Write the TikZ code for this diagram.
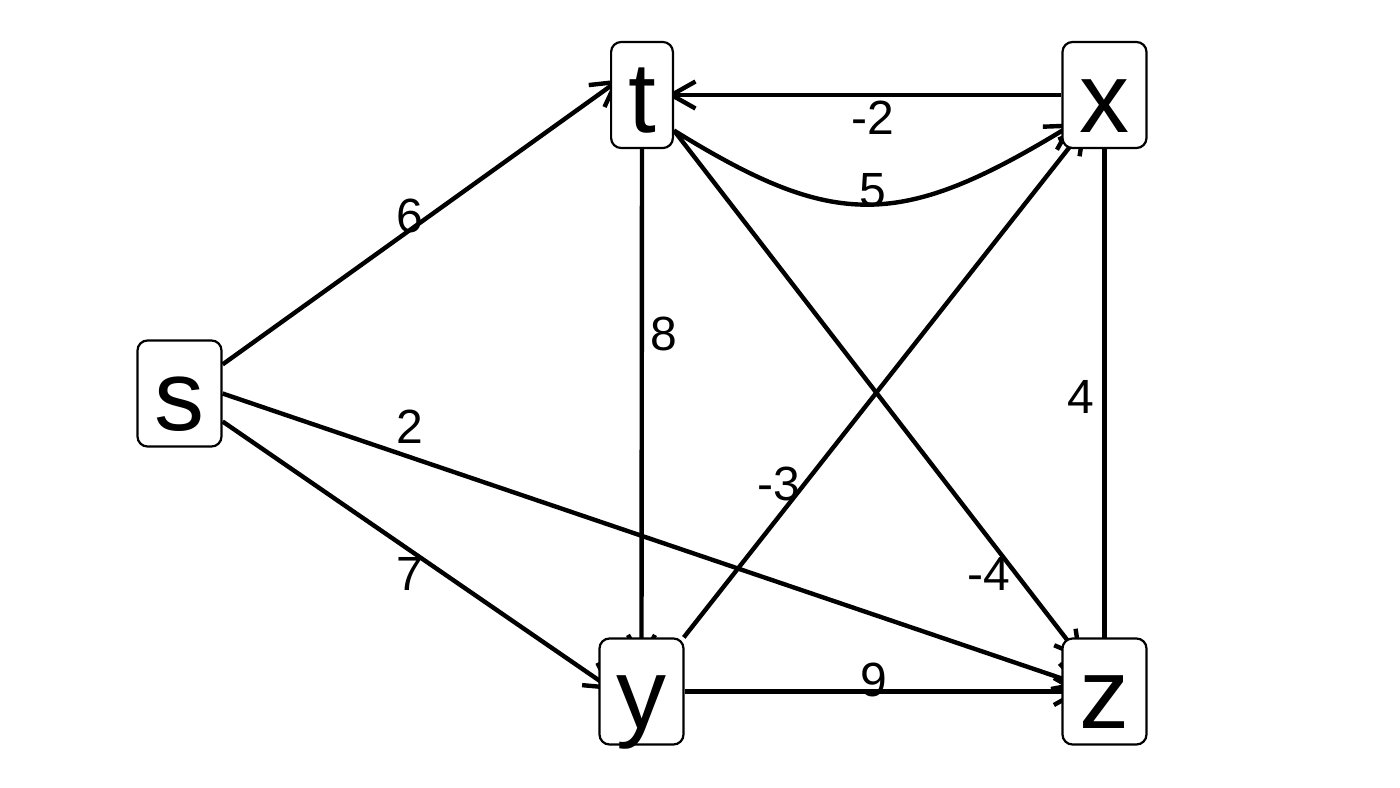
\documentclass[tikz,border=0pt]{standalone}
\usepackage{fontspec}
\setmainfont{Liberation Sans}
\usetikzlibrary{arrows.meta,backgrounds}
\begin{document}
\begin{tikzpicture}[x=1pt,y=-1pt,
  vert/.style={draw, line width=2.2pt, fill=white, rounded corners=10pt,
    inner xsep=17pt, inner ysep=0pt, minimum height=106pt,
    text height=80pt, text depth=6pt, font=\fontsize{100}{100}\selectfont},
  edge/.style={line width=4.4pt, -{Straight Barb[length=24pt,width=27pt]}},
  wt/.style={font=\fontsize{48}{48}\selectfont, inner sep=0pt}]
\path[use as bounding box] (0,0) rectangle (1400,787);
\node[vert] (s) at (179.5,393.5) {s};
\node[vert] (t) at (642,95) {t};
\node[vert] (x) at (1104.5,95) {x};
\node[vert] (y) at (641.5,691.5) {y};
\node[vert] (z) at (1104.5,691.5) {z};
\begin{scope}[on background layer]
\draw[edge, shorten >=-12pt] (s.34) -- (t.165);
\draw[edge, shorten >=-18pt] (s.-33) -- (y.165);
\draw[edge, shorten >=-22pt] (s.east) -- (z.163);
\draw[edge, shorten >=-26pt] (t.south) -- (y.north);
\draw[edge, shorten >=-7pt] (x.west) -- (t.east);
\draw[edge, shorten >=-15pt] (t.-48) .. controls (835,230) and (900,230) .. (x.220);
\draw[edge, shorten >=-28pt] (t.-48) -- (z.126);
\draw[edge, shorten >=-30pt] (x.south) -- (z.north);
\draw[edge, shorten >=-30pt] (y.52) -- (x.236);
\draw[edge, shorten >=-21pt] (y.east) -- (z.west);
\end{scope}
\node[wt] (w6) at (410,216) {6};
\node[wt] (w7) at (410,574) {7};
\node[wt] (w2) at (410,427) {2};
\node[wt] (w8) at (664,334) {8};
\node[wt] (wm2) at (873,118) {-2};
\node[wt] (w5) at (873,190) {5};
\node[wt] (wm4) at (989,574) {-4};
\node[wt] (wm3) at (779,484) {-3};
\node[wt] (w4) at (1081,397) {4};
\node[wt] (w9) at (874,680) {9};
\end{tikzpicture}
\end{document}
